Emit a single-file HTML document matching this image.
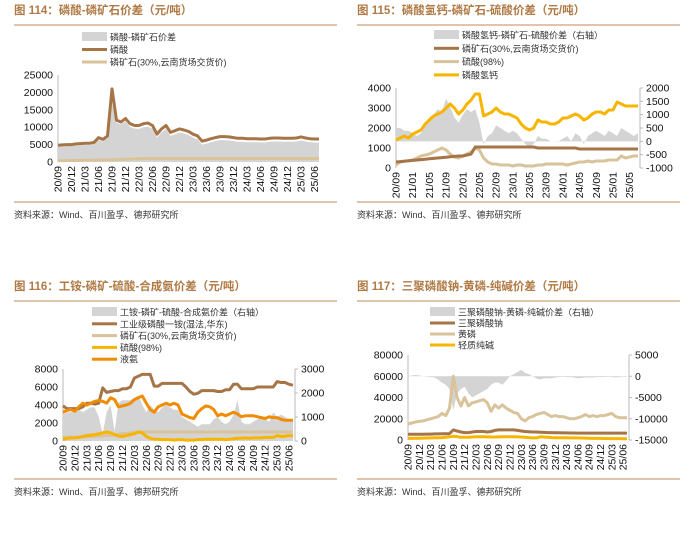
<!DOCTYPE html>
<html><head><meta charset="utf-8">
<style>
html,body{margin:0;padding:0;background:#fff;}
body{width:700px;height:549px;position:relative;overflow:hidden;font-family:"Liberation Sans","Noto Sans CJK SC",sans-serif;}
svg{position:absolute;left:0;top:0;}
</style></head>
<body>
<svg id="chart" width="700" height="549" viewBox="0 0 700 549"></svg>
<script>
// ---------- Data (monthly 2020/09 .. 2025/07) ----------
const p1Acid=[4800,4900,5000,5000,5200,5300,5400,5400,5600,7000,6500,7500,21000,12000,11500,12500,11000,10500,10500,11000,11200,10500,8000,9500,10500,8500,9000,9500,9200,8800,8000,7500,6000,6300,6700,7000,7300,7300,7200,7000,6800,6800,6700,6700,6700,6600,6600,6800,6900,6900,6800,6800,6800,6900,7200,6900,6700,6600,6600];
const p1Rock=[400,400,420,430,450,460,480,500,520,550,580,600,650,700,750,800,850,900,950,1000,1000,1000,1000,1000,1000,1000,1000,1000,1000,1000,1000,1000,1000,1000,1000,1000,1000,1000,1000,1000,1000,1000,1000,1000,1000,1000,1000,1000,1000,1000,1000,1000,1000,1000,1000,1000,1000,1000,1000];
const p1Spread=[4400,4500,4600,4600,4700,4800,4900,4900,5100,6400,5900,6900,17000,11300,10800,11700,10100,9600,9500,10000,10200,9500,7000,8500,9500,7500,8000,8500,8200,7800,7000,6500,5000,5300,5700,6000,6300,6300,6200,6000,5800,5800,5700,5700,5700,5600,5600,5800,5900,5900,5800,5800,5800,5900,6200,5900,5700,5600,5600];
const p1Ticks=["20/09","20/12","21/03","21/06","21/09","21/12","22/03","22/06","22/09","22/12","23/03","23/06","23/09","23/12","24/03","24/06","24/09","24/12","25/03","25/06"];

const p2Dcp=[1400,1500,1600,1500,1700,1800,1900,2200,2400,2600,2700,2800,3000,3200,3000,2700,2900,3200,3400,3700,3700,2600,2700,2800,3000,2800,2700,2700,2600,2500,2200,2000,1900,2000,2400,2300,2300,2200,2200,2300,2500,2500,2600,2700,2600,2400,2500,2700,2800,2800,2700,2900,2900,3300,3200,3100,3100,3100,3100];
const p2Rock=[300,320,340,360,380,400,420,440,460,480,500,520,540,560,580,600,600,650,700,1050,1050,1050,1050,1050,1050,1050,1050,1050,1050,1050,1050,1050,1050,1050,1000,1000,1000,1000,1000,1000,1000,1000,1000,1000,950,950,950,950,950,950,950,950,950,950,950,950,950,950,950];
const p2Acid=[150,300,350,350,400,500,600,650,700,800,900,1000,900,700,550,500,600,700,800,1000,900,500,300,200,200,150,150,150,100,150,150,100,100,100,150,150,200,200,200,200,200,150,200,250,300,300,350,300,350,350,350,400,400,400,600,500,550,600,600];
const p2Spread=[500,500,400,400,300,200,300,700,900,1000,1200,1100,1600,1300,900,700,1000,1200,1100,1200,700,-100,200,300,600,500,400,300,400,300,100,-100,-200,-100,200,100,100,0,0,0,100,200,0,300,200,-100,200,300,400,300,200,400,300,200,500,400,300,200,300];
const p2Ticks=["20/09","21/01","21/05","21/09","22/01","22/05","22/09","23/01","23/05","23/09","24/01","24/05","24/09","25/01","25/05"];

const p3Map=[3900,3600,3600,3600,3600,3800,4200,4200,4100,4200,5900,5400,5500,5600,5600,5800,5800,6000,7000,7200,7400,7400,7400,6100,6100,6400,6400,6400,6400,6400,6400,6000,5500,5200,5300,5600,5600,5600,5600,5500,5500,5700,5700,6300,6300,5800,5800,5800,5800,6000,6000,6000,6000,6000,6600,6500,6500,6300,6200];
const p3Rock=[400,400,420,430,450,460,480,500,520,550,580,600,650,700,750,800,850,900,950,1000,1000,1000,1000,1000,1000,1000,1000,1000,1000,1000,1000,1000,1000,1000,1000,1000,1000,1000,1000,1000,1000,1000,1000,1000,1000,1000,1000,1000,1000,1000,1000,1000,1000,1000,1000,1000,1000,1000,1000];
const p3Acid=[150,300,350,350,400,500,600,650,700,800,900,1000,900,700,550,500,600,700,800,1000,900,500,300,200,200,150,150,150,100,150,150,100,100,100,150,150,200,200,200,200,200,150,200,250,300,300,350,300,350,350,350,400,400,400,600,500,550,600,600];
const p3Nh3=[3200,3400,3500,3300,3800,4200,4000,4200,4400,4500,4400,4200,4800,4600,3800,3900,4000,4200,4600,4800,5000,4200,3500,3200,3800,4000,4200,4000,4200,4000,3000,2800,2600,2500,3200,3600,3900,3800,3500,2800,3000,2800,3000,3200,3000,2700,2800,2800,2800,2700,2600,2500,2700,2600,2600,2400,2300,2300,2300];
const p3Spread=[1100,1200,1200,1300,1300,1200,1300,1400,1400,1000,300,1200,1500,400,1600,1700,1700,1700,1800,1900,1500,1200,1500,1300,1200,1400,1500,1400,1300,1300,1000,900,800,700,600,700,700,700,900,1000,800,700,800,1100,1700,800,700,700,800,900,1000,900,800,1200,1000,1100,1000,900,900];
const p3Ticks=p1Ticks;

const p4Stpp=[5500,5500,5500,5500,5500,5600,5600,5700,5700,5800,5900,6000,9500,8500,7500,7000,7000,7500,8000,8000,8000,7500,8000,9000,9500,9500,9500,9500,9500,9000,8500,8000,7800,7500,7500,7300,7200,7000,7000,6800,6800,6700,6700,6600,6600,6500,6500,6500,6500,6500,6500,6500,6500,6500,6500,6500,6500,6500,6500];
const p4P4=[15000,16000,17000,17500,18000,19000,20000,21000,22000,25000,23000,30000,60000,40000,32000,40000,32000,35000,36000,37000,38000,35000,27000,33000,30000,33000,30000,28000,26000,25000,20000,18000,21000,22000,24000,25000,26000,24000,22000,23000,22000,22000,21000,20000,20000,21000,22000,24000,22000,23000,22000,23000,23000,24000,25000,22000,21000,21000,21000];
const p4Soda=[1500,1500,1600,1700,1800,1900,2000,2100,2200,2300,2500,3000,3500,3200,2500,2500,2600,2800,3000,3000,3000,2900,2800,2800,2900,3000,3000,3000,3000,2900,2800,2600,2300,2000,2000,3000,2800,2500,2300,2200,2100,2200,2100,2000,2000,2000,1900,1800,1600,1500,1500,1500,1400,1400,1300,1300,1300,1200,1200];
const p4Spread=[0,200,300,200,0,-100,-200,-300,-800,-1500,-2000,-3000,-8000,-4000,-3000,-2500,-4000,-5000,-4500,-4000,-3500,-3000,-2000,-1500,-1500,-2000,-1000,0,500,1000,1500,800,500,0,-500,-800,-500,-500,-500,-300,-200,-100,-200,-200,-300,-500,-400,-300,-300,-300,-200,-200,-200,-100,-200,-300,-200,-100,-100];
const p4Ticks=p1Ticks;

const leftTicks1=[0,5000,10000,15000,20000,25000];
const leftTicks2=[0,1000,2000,3000,4000];
const rightTicks2=[-1000,-500,0,500,1000,1500,2000];
const leftTicks3=[0,2000,4000,6000,8000];
const rightTicks3=[0,1000,2000,3000];
const leftTicks4=[0,20000,40000,60000,80000];
const rightTicks4=[-15000,-10000,-5000,0,5000];

// ---------- Rendering ----------
const svg=document.getElementById('chart');
const NS='http://www.w3.org/2000/svg';
function mk(tag,parent){const e=document.createElementNS(NS,tag);parent.appendChild(e);return e;}
const TITLE='#b07a45',RULE='#c9a27a',GRAY='#d4d4d4',BROWN='#a57548',TAN='#d9c39a',YEL='#f7b500',ORG='#f08c00';

function panel(P){
  const g=mk('g',svg);
  
  
  const t=mk('text',g);t.textContent=P.title;
  t.setAttribute('x',P.x0);t.setAttribute('y',P.ty);t.setAttribute('font-size','11.5');t.setAttribute('font-weight','bold');t.setAttribute('fill',TITLE);
  
  
  [P.ty+11,P.by].forEach(function(yy,k){const l=mk('line',g);l.setAttribute('x1',P.x0);l.setAttribute('x2',P.x0+323);l.setAttribute('y1',yy);l.setAttribute('y2',yy);l.setAttribute('stroke',RULE);l.setAttribute('stroke-width','1.3');
    
    });
  const s=mk('text',g);s.textContent='资料来源：Wind、百川盈孚、德邦研究所';
  s.setAttribute('x',P.x0);s.setAttribute('y',P.by+16);s.setAttribute('font-size','9');s.setAttribute('fill','#333');
  
  
  P.legend.forEach(function(L,i){
    const lg=mk('g',g);
    
    
    const y=P.ly+i*P.lstep;
    const r=mk('rect',lg);r.setAttribute('x',P.lx);r.setAttribute('width',25);
    if(L.area){r.setAttribute('y',y-5);r.setAttribute('height',9);}else{r.setAttribute('y',y-1.5);r.setAttribute('height',3);}
    r.setAttribute('fill',L.c);
    const tx=mk('text',lg);tx.textContent=L.t;tx.setAttribute('x',P.lx+28);tx.setAttribute('y',y+3.5);tx.setAttribute('font-size','9');tx.setAttribute('fill','#333');
  });
  const L=P.L,R=P.R,T=P.T,B=P.B;
  function sx(i){return L+i*(R-L)/(P.n-1);}
  function syL(v){return B-(v-P.lmin)/(P.lmax-P.lmin)*(B-T);}
  function syR(v){return B-(v-P.rmin)/(P.rmax-P.rmin)*(B-T);}
  const ax=mk('line',g);ax.setAttribute('x1',L);ax.setAttribute('x2',L);ax.setAttribute('y1',T);ax.setAttribute('y2',B);ax.setAttribute('stroke','#bbb');
  
  
  P.lt.forEach(function(v){const tx=mk('text',g);tx.textContent=v;tx.setAttribute('x',L-5);tx.setAttribute('y',syL(v)+3.5);tx.setAttribute('font-size','10.5');tx.setAttribute('text-anchor','end');tx.setAttribute('fill','#111');
    
    });
  if(P.rt){
    const ar=mk('line',g);ar.setAttribute('x1',R+2);ar.setAttribute('x2',R+2);ar.setAttribute('y1',T);ar.setAttribute('y2',B);ar.setAttribute('stroke','#bbb');
    
    
    P.rt.forEach(function(v){const tx=mk('text',g);tx.textContent=v;tx.setAttribute('x',R+8);tx.setAttribute('y',syR(v)+3.5);tx.setAttribute('font-size','10.5');tx.setAttribute('fill','#111');
      
      
      const tk=mk('line',g);tk.setAttribute('x1',R+2);tk.setAttribute('x2',R+5);tk.setAttribute('y1',syR(v));tk.setAttribute('y2',syR(v));tk.setAttribute('stroke','#bbb');});
  }
  P.ticks.forEach(function(lab,k){const i=k*P.tstep;const tx=mk('text',g);tx.textContent=lab;
    const xx=sx(i)+3.5,yy=B+4;tx.setAttribute('transform','translate('+xx+','+yy+') rotate(-90)');tx.setAttribute('text-anchor','end');tx.setAttribute('font-size','10.5');tx.setAttribute('fill','#111');
    
    });
  if(P.area){
    const sy=P.areaRight?syR:syL;const base=sy(P.areaBase);
    let d='M'+sx(0)+','+base;P.area.forEach(function(v,i){d+=' L'+sx(i).toFixed(1)+','+sy(v).toFixed(1);});d+=' L'+sx(P.n-1)+','+base+' Z';
    const a=mk('path',g);a.setAttribute('d',d);a.setAttribute('fill',GRAY);
    
    
  }
  P.lines.forEach(function(S){
    let d='';S.d.forEach(function(v,i){d+=(i?' L':'M')+sx(i).toFixed(1)+','+syL(v).toFixed(1);});
    const p=mk('path',g);p.setAttribute('d',d);p.setAttribute('fill','none');p.setAttribute('stroke',S.c);p.setAttribute('stroke-width',S.w||3);p.setAttribute('stroke-linejoin','round');
    
    
  });
}

panel({name:'panel-114',x0:14,ty:14,by:202,title:'图 114：磷酸-磷矿石价差（元/吨）',lx:82,ly:37,lstep:12.5,
  legend:[{t:'磷酸-磷矿石价差',c:GRAY,area:1},{t:'磷酸',c:BROWN},{t:'磷矿石(30%,云南货场交货价)',c:TAN}],
  L:58,R:319,T:75,B:162,n:59,lmin:0,lmax:25000,lt:leftTicks1,ticks:p1Ticks,tstep:3,
  area:p1Spread,areaBase:0,lines:[{d:p1Rock,c:TAN,name:'rock-line'},{d:p1Acid,c:BROWN,name:'acid-line'}]});
panel({name:'panel-115',x0:357,ty:14,by:202,title:'图 115：磷酸氢钙-磷矿石-硫酸价差（元/吨）',lx:434,ly:35,lstep:13.3,
  legend:[{t:'磷酸氢钙-磷矿石-硫酸价差（右轴）',c:GRAY,area:1},{t:'磷矿石(30%,云南货场交货价)',c:BROWN},{t:'硫酸(98%)',c:TAN},{t:'磷酸氢钙',c:YEL}],
  L:396,R:638,T:88,B:168,n:59,lmin:0,lmax:4000,lt:leftTicks2,rmin:-1000,rmax:2000,rt:rightTicks2,ticks:p2Ticks,tstep:4,
  area:p2Spread,areaRight:1,areaBase:0,lines:[{d:p2Acid,c:TAN,name:'sulfuric-line'},{d:p2Rock,c:BROWN,name:'rock-line'},{d:p2Dcp,c:YEL,name:'dcp-line'}]});
panel({name:'panel-116',x0:14,ty:290,by:479,title:'图 116：工铵-磷矿-硫酸-合成氨价差（元/吨）',lx:92,ly:312,lstep:11.8,
  legend:[{t:'工铵-磷矿-硫酸-合成氨价差（右轴）',c:GRAY,area:1},{t:'工业级磷酸一铵(湿法,华东)',c:BROWN},{t:'磷矿石(30%,云南货场交货价)',c:TAN},{t:'硫酸(98%)',c:YEL},{t:'液氨',c:ORG}],
  L:63,R:293,T:369,B:441,n:59,lmin:0,lmax:8000,lt:leftTicks3,rmin:0,rmax:3000,rt:rightTicks3,ticks:p3Ticks,tstep:3,
  area:p3Spread,areaRight:1,areaBase:0,lines:[{d:p3Rock,c:TAN,name:'rock-line'},{d:p3Acid,c:YEL,name:'sulfuric-line'},{d:p3Map,c:BROWN,name:'map-line'},{d:p3Nh3,c:ORG,name:'ammonia-line'}]});
panel({name:'panel-117',x0:357,ty:290,by:479,title:'图 117：三聚磷酸钠-黄磷-纯碱价差（元/吨）',lx:430,ly:312,lstep:11,
  legend:[{t:'三聚磷酸钠-黄磷-纯碱价差（右轴）',c:GRAY,area:1},{t:'三聚磷酸钠',c:BROWN},{t:'黄磷',c:TAN},{t:'轻质纯碱',c:YEL}],
  L:408,R:627,T:355,B:440,n:59,lmin:0,lmax:80000,lt:leftTicks4,rmin:-15000,rmax:5000,rt:rightTicks4,ticks:p4Ticks,tstep:3,
  area:p4Spread,areaRight:1,areaBase:0,lines:[{d:p4P4,c:TAN,name:'phosphorus-line'},{d:p4Stpp,c:BROWN,name:'stpp-line'},{d:p4Soda,c:YEL,name:'soda-line'}]});
</script>
</body></html>
